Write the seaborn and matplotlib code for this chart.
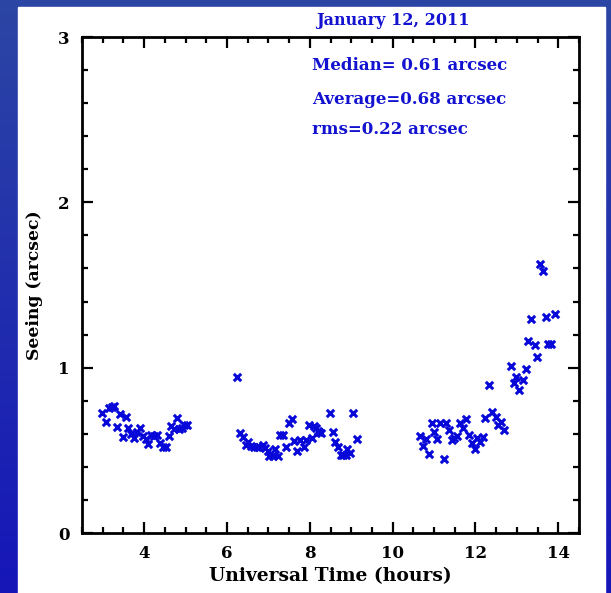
import numpy as np
import pandas as pd
import matplotlib
matplotlib.use("Agg")
import matplotlib.pyplot as plt
import seaborn as sns
from matplotlib.ticker import MultipleLocator, FixedLocator
from matplotlib.patches import Rectangle
from matplotlib.colors import LinearSegmentedColormap

# ---- data ----
ut_hours = [
    2.99, 3.07, 3.16, 3.22, 3.27, 3.34, 3.42, 3.48, 3.56, 3.62, 3.68, 3.76, 3.82, 3.90,
    3.97, 4.04, 4.10, 4.17, 4.24, 4.32, 4.38, 4.45, 4.53, 4.59, 4.65, 4.73, 4.79, 4.84,
    4.91, 4.97, 5.03,
    6.25, 6.32, 6.38, 6.45, 6.52, 6.58, 6.65, 6.72, 6.78, 6.86, 6.92, 6.98, 7.02, 7.10,
    7.16, 7.23, 7.28, 7.35, 7.43, 7.49, 7.57, 7.63, 7.70, 7.77, 7.85, 7.91, 7.98, 8.05,
    8.10, 8.15, 8.19, 8.22, 8.27, 8.49, 8.55, 8.62, 8.69, 8.75, 8.81, 8.88, 8.91, 8.97,
    9.05, 9.13,
    10.66, 10.74, 10.81, 10.88, 10.95, 11.01, 11.08, 11.15, 11.23, 11.28, 11.36, 11.43,
    11.49, 11.55, 11.63, 11.70, 11.78, 11.85, 11.91, 11.98, 12.03, 12.11, 12.18, 12.24,
    12.33, 12.41, 12.49, 12.54, 12.61, 12.69, 12.85, 12.92, 12.98, 13.06, 13.14, 13.22,
    13.28, 13.35, 13.43, 13.48, 13.55, 13.63, 13.70, 13.75, 13.83, 13.91,
]
seeing_arcsec = [
    0.724, 0.670, 0.754, 0.760, 0.770, 0.643, 0.720, 0.579, 0.700, 0.637, 0.597, 0.577, 0.611, 0.637,
    0.587, 0.567, 0.537, 0.591, 0.587, 0.593, 0.546, 0.522, 0.522, 0.587, 0.647, 0.627, 0.694, 0.629,
    0.633, 0.653, 0.653,
    0.946, 0.603, 0.579, 0.532, 0.552, 0.526, 0.522, 0.518, 0.522, 0.532, 0.516, 0.498, 0.466, 0.466,
    0.506, 0.466, 0.591, 0.591, 0.522, 0.664, 0.690, 0.559, 0.498, 0.563, 0.522, 0.563, 0.653, 0.573,
    0.647, 0.637, 0.617, 0.609, 0.607, 0.724, 0.613, 0.552, 0.522, 0.472, 0.472, 0.472, 0.508, 0.482,
    0.724, 0.567,
    0.587, 0.528, 0.567, 0.476, 0.664, 0.613, 0.567, 0.667, 0.446, 0.664, 0.623, 0.563,
    0.573, 0.587, 0.664, 0.637, 0.690, 0.593, 0.543, 0.508, 0.573, 0.552, 0.579, 0.698,
    0.895, 0.734, 0.704, 0.653, 0.673, 0.623, 1.010, 0.906, 0.946, 0.865, 0.926, 0.990,
    1.162, 1.293, 1.137, 1.067, 1.625, 1.585, 1.309, 1.142, 1.142, 1.323,
]
x_tick_values = [4, 6, 8, 10, 12, 14]
y_tick_values = [0, 1, 2, 3]
title_text = "January 12, 2011"
stats_lines = ["Median= 0.61 arcsec", "Average=0.68 arcsec", "rms=0.22 arcsec"]
x_label = "Universal Time (hours)"
y_label = "Seeing (arcsec)"

df = pd.DataFrame({"ut": ut_hours, "seeing": seeing_arcsec})

sns.set_theme(style="ticks")
plt.rcParams["font.family"] = ["DejaVu Serif"]
plt.rcParams["text.color"] = "black"
plt.rcParams["axes.labelcolor"] = "black"
plt.rcParams["xtick.labelcolor"] = "black"
plt.rcParams["ytick.labelcolor"] = "black"

W, H = 611, 593
fig = plt.figure(figsize=(W / 100, H / 100), dpi=100)

# background: blue gradient frame with white panel
bg = fig.add_axes([0, 0, 1, 1], zorder=-10)
grad = np.linspace(0, 1, 256).reshape(-1, 1)
cmap = LinearSegmentedColormap.from_list("bg", ["#2c46a4", "#1616b8"])
bg.imshow(grad, aspect="auto", cmap=cmap, extent=[0, 1, 0, 1], origin="upper")
bg.add_patch(Rectangle((18 / W, 0), (605 - 18) / W, (H - 7) / H, color="white"))
bg.set_xlim(0, 1)
bg.set_ylim(0, 1)
bg.axis("off")

ax = fig.add_axes([82 / W, 60 / H, 497 / W, 496 / H])
ax.set_facecolor("white")
sns.scatterplot(data=df, x="ut", y="seeing", marker="x", color="#0808d8",
                s=28, linewidth=2.2, ax=ax, legend=False, zorder=3)

ax.set_xlim(2.5, 14.5)
ax.set_ylim(0, 3)
ax.xaxis.set_major_locator(FixedLocator(x_tick_values))
ax.yaxis.set_major_locator(FixedLocator(y_tick_values))
ax.xaxis.set_minor_locator(MultipleLocator(0.5))
ax.yaxis.set_minor_locator(MultipleLocator(0.2))
ax.tick_params(which="both", direction="in", top=True, right=True, color="black",
               labelcolor="black", width=1.6)
ax.tick_params(which="major", length=8, labelsize=12, pad=9)
ax.tick_params(which="minor", length=4.5)
for lab in ax.get_xticklabels() + ax.get_yticklabels():
    lab.set_fontweight("bold")
for sp in ax.spines.values():
    sp.set_linewidth(2)
    sp.set_color("black")

ax.set_xlabel(x_label, fontsize=13.5, fontweight="bold", labelpad=3, color="black")
ax.set_ylabel(y_label, fontsize=12.3, fontweight="bold", labelpad=11, color="black")

text_color = "#1212d0"
ax.text(8.15, 3.1, title_text, color=text_color, fontsize=11.5, fontweight="bold",
        va="center", ha="left", clip_on=False)
for yv, line in zip([2.83, 2.62, 2.44], stats_lines):
    ax.text(8.05, yv, line, color=text_color, fontsize=12, fontweight="bold",
            va="center", ha="left")

fig.savefig("out.png", dpi=100)
